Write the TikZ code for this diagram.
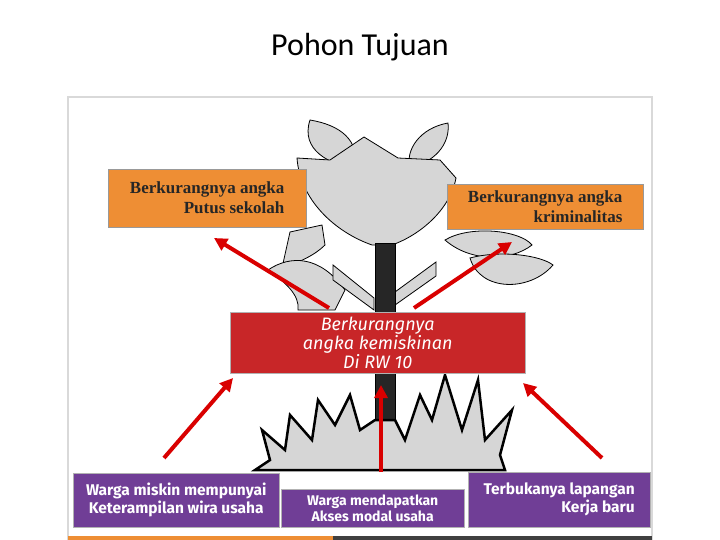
\documentclass[tikz,border=0pt]{standalone}
\usepackage{fontspec}
\setmainfont{Liberation Serif}
\setsansfont{Fira Sans}
\newfontfamily\titlefont{Carlito}
\usetikzlibrary{arrows.meta}
\definecolor{boxorange}{RGB}{238,142,52}
\definecolor{boxred}{RGB}{200,38,40}
\definecolor{boxpurple}{RGB}{112,62,150}
\definecolor{plant}{RGB}{214,214,214}
\tikzset{
  goalbox/.style={draw=black!40,fill=boxorange,minimum width=#1,minimum height=58pt,
    font=\fontsize{17}{20}\selectfont\bfseries,text=black!85,align=right,inner sep=4pt},
  corebox/.style={draw=black!30,fill=boxred,minimum width=295pt,minimum height=61pt,
    font=\sffamily\itshape\fontsize{18}{19}\selectfont,text=white,align=center},
  meansbox/.style={draw=black!30,fill=boxpurple,minimum width=#1,
    font=\sffamily\bfseries\fontsize{15.5}{18}\selectfont,text=white,inner sep=3pt},
  uparrow/.style={draw=red!85!black,line width=4pt,-{Triangle[length=13pt,width=13pt]}},
  leaf/.style={draw=black,fill=plant,line width=0.8pt}
}
\begin{document}
\begin{tikzpicture}[x=1pt,y=-1pt]
\useasboundingbox (0,0) rectangle (720,540);
\node[font=\titlefont\fontsize{32}{36}\selectfont] (title) at (360,47) {Pohon Tujuan};
% panel
\draw[black!15,line width=1.5pt,fill=white] (68,97) rectangle (652,545);
\fill[boxorange] (68,536) rectangle (333,540);
\fill[black!75] (333,536) rectangle (652,540);
% plant
\draw[leaf] (310,120) .. controls (300,150) and (330,165) .. (355,168) .. controls (360,140) and (340,125) .. cycle;
\draw[leaf] (448,123) .. controls (420,128) and (405,150) .. (410,168) .. controls (440,160) and (450,140) .. cycle;
\draw[leaf] (290,232) -- (282,268) .. controls (300,262) and (315,255) .. (325,245) -- (322,225) -- cycle;
\draw[leaf] (268,270) .. controls (290,255) and (320,255) .. (345,290) -- (335,310) -- (298,310)
  .. controls (300,295) and (285,282) .. cycle;
\draw[leaf] (445,240) .. controls (470,225) and (520,230) .. (532,245) .. controls (510,262) and (470,262) .. cycle;
\draw[leaf] (470,258) .. controls (500,250) and (540,255) .. (553,265) .. controls (530,292) and (480,292) .. cycle;
\draw[leaf] (333,265) -- (374,298) -- (374,310) -- (333,280) -- cycle;
\draw[leaf] (436,262) -- (395,292) -- (395,305) -- (436,276) -- cycle;
\draw[leaf] (297,158) -- (330,160) -- (364,137) -- (398,158) -- (440,160) -- (456,178)
  .. controls (450,210) and (420,235) .. (392,245) -- (372,245) .. controls (335,232) and (300,200) .. cycle;
\draw[line width=1pt,fill=black!85] (375,243) -- (395,243) -- (395,470) -- (375,470) -- cycle;
\draw[leaf,line width=2.5pt,line join=miter] (255,470) -- (505,470) -- (500,455) -- (512,410) -- (485,440) -- (478,380) -- (462,430)
  -- (445,375) -- (432,420) -- (420,395) -- (405,440) -- (395,420) -- (375,420) -- (360,430)
  -- (350,395) -- (335,425) -- (318,400) -- (312,440) -- (290,415) -- (285,450) -- (262,430) -- (270,460) -- cycle;
% boxes
\node[goalbox=198pt,anchor=north west] (school) at (108,169) {Berkurangnya angka\\Putus sekolah};
\node[goalbox=196pt,minimum height=45pt,anchor=north west] (crime) at (447,184) {Berkurangnya angka\\kriminalitas};
\node[corebox,anchor=north west] (poverty) at (230,312) {Berkurangnya\\angka kemiskinan\\Di RW 10};
\node[meansbox=206pt,minimum height=54pt,align=center,anchor=north west] (skill) at (73,473) {Warga miskin mempunyai\\Keterampilan wira usaha};
\node[meansbox=183pt,minimum height=38pt,align=center,font=\sffamily\bfseries\fontsize{14}{16}\selectfont,anchor=north west] (capital) at (281,489) {Warga mendapatkan\\Akses modal usaha};
\node[meansbox=182pt,minimum height=55pt,align=right,anchor=north west] (jobs) at (468,472) {Terbukanya lapangan\\Kerja baru};
% arrows
\coordinate (a1) at (329,308); \coordinate (a2) at (214,238);
\coordinate (b1) at (414,308); \coordinate (b2) at (512,242);
\coordinate (c1) at (164,458); \coordinate (c2) at (233,378);
\coordinate (d1) at (381,472); \coordinate (d2) at (381,385);
\coordinate (e1) at (602,458); \coordinate (e2) at (523,383);
\draw[uparrow] (a1) -- (a2);
\draw[uparrow] (b1) -- (b2);
\draw[uparrow] (c1) -- (c2);
\draw[uparrow] (d1) -- (d2);
\draw[uparrow] (e1) -- (e2);
\end{tikzpicture}
\end{document}
